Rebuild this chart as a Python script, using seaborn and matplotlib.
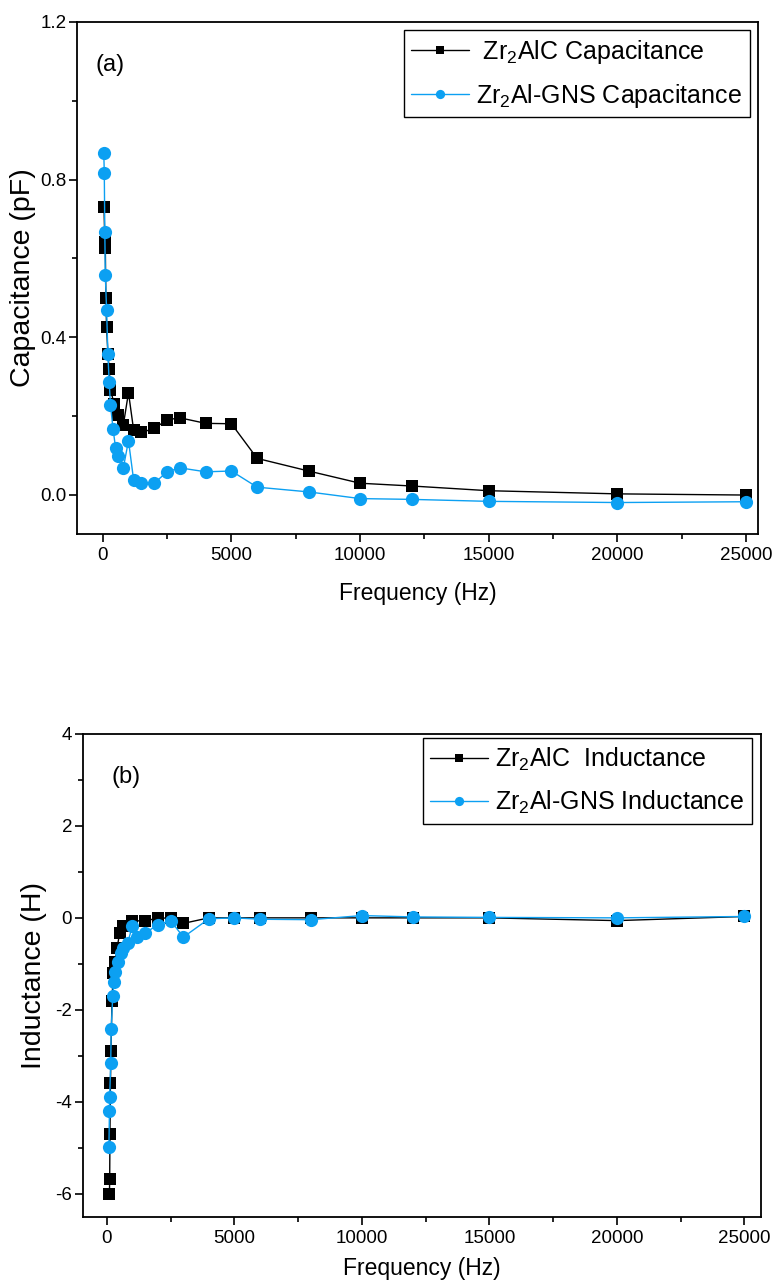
import matplotlib
matplotlib.use("Agg")
import matplotlib.pyplot as plt
from matplotlib.ticker import MultipleLocator, FormatStrFormatter
import seaborn as sns

# (a) capacitance, pF
cap_freq_alc = [50, 80, 100, 120, 150, 200, 250, 300, 450, 600, 800, 1000, 1200, 1500,
                2000, 2500, 3000, 4000, 5000, 6000, 8000, 10000, 12000, 15000, 20000, 25000]
cap_alc = [0.731, 0.642, 0.627, 0.499, 0.425, 0.358, 0.318, 0.266, 0.229, 0.203, 0.177, 0.259,
           0.164, 0.158, 0.168, 0.190, 0.195, 0.181, 0.180, 0.092, 0.060, 0.029, 0.022, 0.010,
           0.002, -0.001]
cap_freq_gns = [40, 60, 80, 100, 150, 200, 250, 300, 400, 500, 600, 800, 1000, 1200, 1500,
                2000, 2500, 3000, 4000, 5000, 6000, 8000, 10000, 12000, 15000, 20000, 25000]
cap_gns = [0.868, 0.817, 0.667, 0.557, 0.468, 0.356, 0.287, 0.228, 0.167, 0.118, 0.099, 0.068,
           0.137, 0.037, 0.029, 0.029, 0.058, 0.068, 0.058, 0.060, 0.019, 0.007, -0.010, -0.012,
           -0.017, -0.020, -0.018]

# (b) inductance, H
ind_freq_alc = [100, 110, 120, 140, 160, 200, 250, 300, 400, 500, 650, 1000, 1500, 2000,
                2500, 3000, 4000, 5000, 6000, 8000, 10000, 12000, 15000, 20000, 25000]
ind_alc = [-6.0, -5.69, -4.70, -3.60, -2.90, -1.80, -1.20, -0.97, -0.66, -0.33, -0.18, -0.07,
           -0.06, -0.01, 0.0, -0.12, 0.0, 0.0, 0.0, 0.0, 0.0, 0.0, 0.0, -0.06, 0.03]
ind_freq_gns = [80, 100, 110, 150, 170, 230, 270, 320, 430, 550, 650, 820, 1000, 1200, 1500,
                2000, 2500, 3000, 4000, 5000, 6000, 8000, 10000, 12000, 15000, 20000, 25000]
ind_gns = [-4.98, -4.21, -3.89, -3.15, -2.42, -1.69, -1.40, -1.18, -0.95, -0.76, -0.66, -0.54,
           -0.17, -0.42, -0.33, -0.15, -0.06, -0.42, -0.02, 0.0, -0.03, -0.04, 0.05, 0.02,
           0.01, 0.0, 0.03]

BLUE = "#0CA0F2"

sns.set_style("ticks")
plt.rcParams["font.family"] = ["Liberation Sans", "DejaVu Sans"]
plt.rcParams["mathtext.default"] = "regular"
plt.rcParams["axes.unicode_minus"] = False
for k in ["text.color", "axes.labelcolor", "xtick.color", "ytick.color"]:
    plt.rcParams[k] = "black"


def draw_panel(ax, f1, y1, lab1, f2, y2, lab2, xpad):
    sns.lineplot(x=f1, y=y1, ax=ax, color="black", lw=1.0, marker="s", markersize=8,
                 markeredgewidth=0, estimator=None, sort=False, label=lab1)
    sns.lineplot(x=f2, y=y2, ax=ax, color=BLUE, lw=1.0, marker="o", markersize=9.5,
                 markeredgewidth=0, estimator=None, sort=False, label=lab2)
    ax.xaxis.set_major_locator(MultipleLocator(5000))
    ax.xaxis.set_minor_locator(MultipleLocator(2500))
    ax.tick_params(which="major", direction="out", length=6, width=1.2, labelsize=13.5,
                   top=False, right=False)
    ax.tick_params(axis="y", which="major", pad=1.5)
    ax.tick_params(which="minor", direction="out", length=3.5, width=1.2,
                   top=False, right=False)
    for sp in ax.spines.values():
        sp.set_linewidth(1.3)
        sp.set_color("black")
    ax.set_xlabel("Frequency (Hz)", fontsize=16.5, labelpad=xpad)


def add_legend(ax, anchor):
    leg = ax.legend(loc="upper right", bbox_to_anchor=anchor, borderaxespad=0,
                    fontsize=18, frameon=True, fancybox=False, edgecolor="black",
                    framealpha=1, handlelength=2.3, markerscale=0.7, borderpad=0.3,
                    labelspacing=0.65, handletextpad=0.3)
    leg.get_frame().set_linewidth(1.0)


fig = plt.figure(figsize=(7.74, 12.85), dpi=100)

ax1 = fig.add_axes([0.0995, 0.5844, 0.8795, 0.3985])
draw_panel(ax1, cap_freq_alc, cap_alc, r" Zr$_2$AlC Capacitance",
           cap_freq_gns, cap_gns, r"Zr$_2$Al-GNS Capacitance", 13)
ax1.set_xlim(-1000, 25450)
ax1.set_ylim(-0.1, 1.2)
ax1.yaxis.set_major_locator(MultipleLocator(0.4))
ax1.yaxis.set_minor_locator(MultipleLocator(0.2))
ax1.yaxis.set_major_formatter(FormatStrFormatter("%.1f"))
ax1.set_ylabel("Capacitance (pF)", fontsize=20.5, labelpad=3)
ax1.text(0.027, 0.915, "(a)", transform=ax1.transAxes, fontsize=17, va="center")
add_legend(ax1, (0.988, 0.984))

ax2 = fig.add_axes([0.1068, 0.0532, 0.8762, 0.3756])
draw_panel(ax2, ind_freq_alc, ind_alc, r"Zr$_2$AlC  Inductance",
           ind_freq_gns, ind_gns, r"Zr$_2$Al-GNS Inductance", 7)
ax2.set_xlim(-950, 25650)
ax2.set_ylim(-6.5, 4)
ax2.yaxis.set_major_locator(MultipleLocator(2))
ax2.yaxis.set_minor_locator(MultipleLocator(1))
ax2.set_ylabel("Inductance (H)", fontsize=20.5, labelpad=6)
ax2.text(0.043, 0.91, "(b)", transform=ax2.transAxes, fontsize=17, va="center")
add_legend(ax2, (0.987, 0.992))

fig.savefig("out.png", dpi=100)
